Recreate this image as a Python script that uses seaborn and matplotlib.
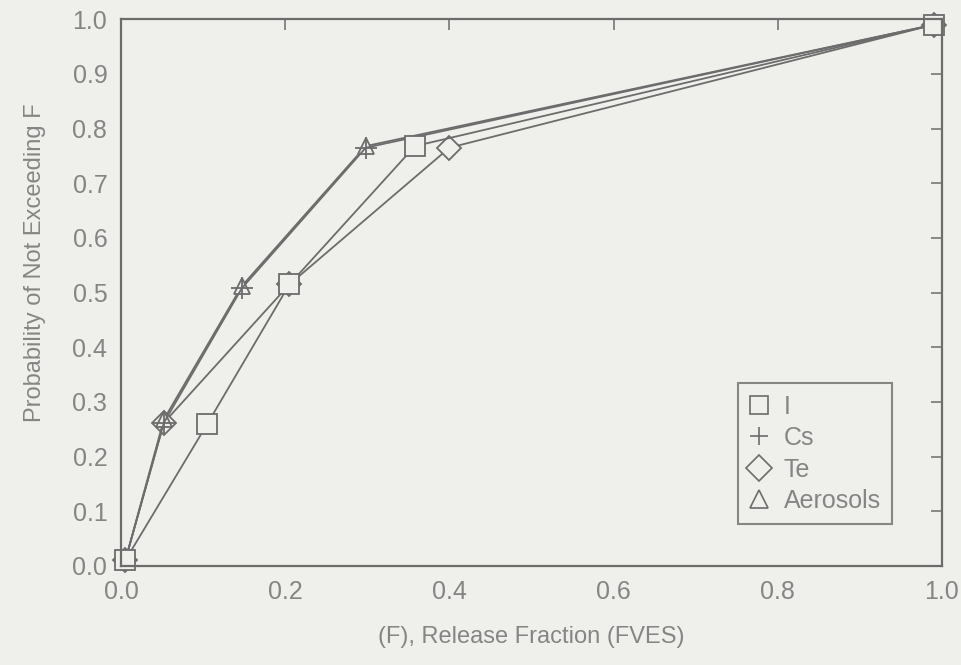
import numpy as np
import pandas as pd
import seaborn as sns
import matplotlib.pyplot as plt
from matplotlib.lines import Line2D

# release fraction (x) and cumulative probability (y) per species
i_x = [0.005, 0.105, 0.205, 0.358, 0.99]
i_y = [0.01, 0.26, 0.515, 0.768, 0.99]
cs_x = [0.005, 0.052, 0.147, 0.298, 0.99]
cs_y = [0.01, 0.262, 0.508, 0.765, 0.99]
te_x = [0.005, 0.052, 0.205, 0.40, 0.99]
te_y = [0.01, 0.262, 0.515, 0.765, 0.99]
aer_x = [0.005, 0.052, 0.147, 0.298, 0.99]
aer_y = [0.01, 0.268, 0.512, 0.768, 0.99]

species = ["I", "Cs", "Te", "Aerosols"]
marker_map = {"I": "s", "Cs": "+", "Te": "D", "Aerosols": "^"}
marker_size = {"I": 14, "Cs": 16, "Te": 12, "Aerosols": 12}
draw_order = ["Te", "Aerosols", "Cs", "I"]

bg = "#efefec"
ink = "#6c6c6c"
txt = "#858585"

frames = []
for name, xs, ys in zip(species, [i_x, cs_x, te_x, aer_x], [i_y, cs_y, te_y, aer_y]):
    frames.append(pd.DataFrame({"F": xs, "P": ys, "species": name}))
df = pd.concat(frames, ignore_index=True)

sns.set_style("white")
plt.rcParams["font.family"] = ["Liberation Sans", "DejaVu Sans"]

fig = plt.figure(figsize=(9.62, 6.65), dpi=100, facecolor=bg)
ax = fig.add_axes([0.126, 0.149, 0.853, 0.822])
ax.set_facecolor(bg)

for name in draw_order:
    sub = df[df["species"] == name]
    sns.lineplot(data=sub, x="F", y="P", sort=False, ax=ax, color=ink,
                 linewidth=1.3, marker=marker_map[name], markersize=marker_size[name],
                 markerfacecolor=bg, markeredgecolor=ink, markeredgewidth=1.3,
                 clip_on=False, legend=False)

ax.set_xlim(0, 1)
ax.set_ylim(0, 1)
ax.set_xticks(np.arange(0, 1.01, 0.2))
ax.set_yticks(np.arange(0, 1.01, 0.1))
ax.set_xticklabels([f"{v:.1f}" for v in np.arange(0, 1.01, 0.2)])
ax.set_yticklabels([f"{v:.1f}" for v in np.arange(0, 1.01, 0.1)])
ax.tick_params(direction="in", length=8, width=1.1, color=ink, labelcolor=txt,
               labelsize=18, top=True, right=True, pad=10)
for s in ax.spines.values():
    s.set_color(ink)
    s.set_linewidth(1.6)

ax.set_xlabel("(F), Release Fraction (FVES)", fontsize=17, color=txt)
ax.xaxis.set_label_coords(0.5, -0.11)
ax.set_ylabel("Probability of Not Exceeding F", fontsize=17, color=txt)
ax.yaxis.set_label_coords(-0.092, 0.555)

handles = [Line2D([], [], linestyle="none", marker=marker_map[n], markersize=13,
                  markerfacecolor=bg, markeredgecolor=ink, markeredgewidth=1.2)
           for n in species]
leg = ax.legend(handles, species, loc="lower right", bbox_to_anchor=(0.955, 0.053),
                fontsize=18, frameon=True, fancybox=False, handlelength=0.8,
                handletextpad=0.6, labelspacing=0.3, borderpad=0.45)
leg.get_frame().set_edgecolor(ink)
leg.get_frame().set_facecolor(bg)
leg.get_frame().set_linewidth(1.5)
for t in leg.get_texts():
    t.set_color(txt)

fig.savefig("out.png", dpi=100, facecolor=bg)
